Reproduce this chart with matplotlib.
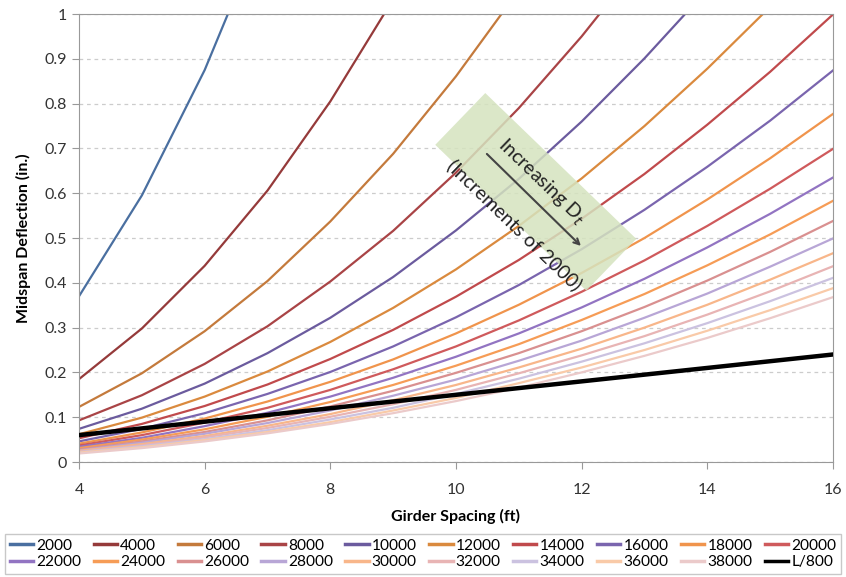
import matplotlib.pyplot as plt
from matplotlib.patches import Rectangle
from matplotlib.transforms import Affine2D, ScaledTranslation

plt.rcParams['font.family'] = ['Lato', 'DejaVu Sans']

spacing = [4, 5, 6, 7, 8, 9, 10, 11, 12, 13, 14, 15, 16]

# midspan deflection (in.) for each D_t (curves cut once they leave the top)
deflections = {
    '2000': [0.370, 0.595, 0.875, 1.213],
    '4000': [0.185, 0.298, 0.438, 0.606, 0.805, 1.033],
    '6000': [0.123, 0.198, 0.292, 0.404, 0.537, 0.688, 0.861, 1.053],
    '8000': [0.093, 0.149, 0.219, 0.303, 0.403, 0.516, 0.646, 0.790, 0.950, 1.126],
    '10000': [0.074, 0.119, 0.175, 0.243, 0.322, 0.413, 0.517, 0.632, 0.760, 0.901, 1.054],
    '12000': [0.062, 0.099, 0.146, 0.202, 0.268, 0.344, 0.430, 0.527, 0.633, 0.750, 0.878, 1.016],
    '14000': [0.053, 0.085, 0.125, 0.173, 0.230, 0.295, 0.369, 0.451, 0.543, 0.643, 0.753, 0.871, 0.999],
    '16000': [0.046, 0.074, 0.109, 0.152, 0.201, 0.258, 0.323, 0.395, 0.475, 0.563, 0.659, 0.762, 0.874],
    '18000': [0.041, 0.066, 0.097, 0.135, 0.179, 0.229, 0.287, 0.351, 0.422, 0.500, 0.586, 0.678, 0.777],
    '20000': [0.037, 0.060, 0.088, 0.121, 0.161, 0.207, 0.258, 0.316, 0.380, 0.450, 0.527, 0.610, 0.699],
    '22000': [0.034, 0.054, 0.080, 0.110, 0.146, 0.188, 0.235, 0.287, 0.345, 0.409, 0.479, 0.554, 0.635],
    '24000': [0.031, 0.050, 0.073, 0.101, 0.134, 0.172, 0.215, 0.263, 0.317, 0.375, 0.439, 0.508, 0.583],
    '26000': [0.028, 0.046, 0.067, 0.093, 0.124, 0.159, 0.199, 0.243, 0.292, 0.346, 0.405, 0.469, 0.538],
    '28000': [0.026, 0.043, 0.063, 0.087, 0.115, 0.148, 0.184, 0.226, 0.271, 0.322, 0.376, 0.436, 0.499],
    '30000': [0.025, 0.040, 0.058, 0.081, 0.107, 0.138, 0.172, 0.211, 0.253, 0.300, 0.351, 0.407, 0.466],
    '32000': [0.023, 0.037, 0.055, 0.076, 0.101, 0.129, 0.161, 0.198, 0.238, 0.281, 0.329, 0.381, 0.437],
    '34000': [0.022, 0.035, 0.051, 0.071, 0.095, 0.121, 0.152, 0.186, 0.224, 0.265, 0.310, 0.359, 0.411],
    '36000': [0.021, 0.033, 0.049, 0.067, 0.089, 0.115, 0.143, 0.176, 0.211, 0.250, 0.293, 0.339, 0.388],
    '38000': [0.019, 0.031, 0.046, 0.064, 0.085, 0.109, 0.136, 0.166, 0.200, 0.237, 0.277, 0.321, 0.368],
}
limit_l800 = [0.060, 0.075, 0.090, 0.105, 0.120, 0.135, 0.150, 0.165, 0.180, 0.195, 0.210, 0.225, 0.240]

colors = ['#4a6fa0', '#953a3a', '#c47a3c', '#a94446', '#6b5b9e', '#da8a3e', '#c04a4c',
          '#7a65ae', '#f0944c', '#cf5a5c', '#9274c2', '#f69c56', '#d99090', '#b8a6d6',
          '#f8b68a', '#e8b4b4', '#cbc2e0', '#f9caa8', '#ebcaca']

fig = plt.figure(figsize=(8.46, 5.77), dpi=100)
ax = fig.add_axes([0.0934, 0.1993, 0.8912, 0.7764])

handles = []
for (name, vals), col in zip(deflections.items(), colors):
    line, = ax.plot(spacing[:len(vals)], vals, color=col, lw=1.6, label=name)
    handles.append(line)
line, = ax.plot(spacing, limit_l800, color='black', lw=3.2, label='L/800', zorder=5)
handles.append(line)

ax.set_xlim(4, 16)
ax.set_ylim(0, 1)
ax.set_xticks(range(4, 17, 2))
ax.set_yticks([i / 10 for i in range(11)])
ax.set_yticklabels(['0', '0.1', '0.2', '0.3', '0.4', '0.5', '0.6', '0.7', '0.8', '0.9', '1'])
ax.yaxis.grid(True, ls=(0, (3, 3)), color='#cccccc', lw=0.9)
ax.set_axisbelow(True)
for sp in ax.spines.values():
    sp.set_color('#999999')
ax.tick_params(colors='#999999', labelcolor='#333333', labelsize=11.5, length=5)
ax.tick_params(axis='x', pad=10)
ax.set_xlabel('Girder Spacing (ft)', fontsize=11.5, fontweight='bold', labelpad=9)
ax.set_ylabel('Midspan Deflection (in.)', fontsize=11.5, fontweight='bold', labelpad=10)

# rotated green box with note and arrow
box_tf = Affine2D().rotate_deg(-44) + ScaledTranslation(11.27, 0.603, ax.transData)
ax.add_patch(Rectangle((-105, -36), 210, 72, transform=box_tf, facecolor='#d5e3bf',
                       edgecolor='none', alpha=0.85, zorder=6))
ax.text(11.36, 0.625, 'Increasing D$_t$', rotation=-44, ha='center', va='center',
        fontsize=14, color='#222222', zorder=7, rotation_mode='anchor')
ax.text(10.93, 0.53, '(Increments of 2000)', rotation=-44, ha='center', va='center',
        fontsize=14, color='#222222', zorder=7, rotation_mode='anchor')
ax.annotate('', xy=(12.02, 0.478), xytext=(10.46, 0.692), zorder=7,
            arrowprops=dict(arrowstyle='->', color='#444444', lw=1.5))

order = []
for i in range(10):
    order += [handles[i], handles[i + 10]]
leg = fig.legend(handles=order, loc='upper center', bbox_to_anchor=(0.5, 0.088), ncol=10,
                 fontsize=11.2, handlelength=1.5, handletextpad=0.2, columnspacing=0.8,
                 frameon=True, fancybox=False, edgecolor='#bbbbbb', borderpad=0.3,
                 labelspacing=0.15)
for h in leg.get_lines():
    h.set_linewidth(2.5)

fig.savefig('out.png', dpi=100)
